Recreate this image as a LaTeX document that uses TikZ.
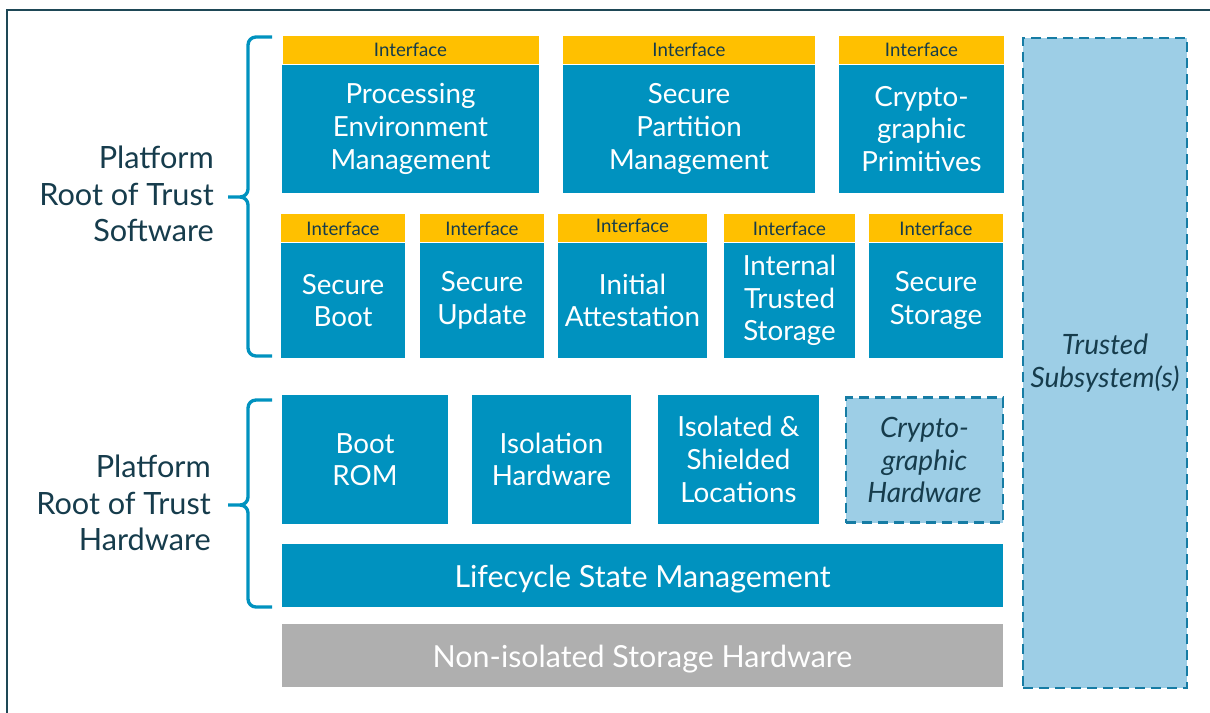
\documentclass[tikz,border=0pt]{standalone}
\usepackage{fontspec}
\setmainfont{Lato}
\usetikzlibrary{positioning}
\definecolor{rotblue}{RGB}{0,146,191}
\definecolor{ifyellow}{RGB}{255,192,0}
\definecolor{optblue}{RGB}{157,206,230}
\definecolor{optedge}{RGB}{22,124,164}
\definecolor{nisgray}{RGB}{175,175,175}
\definecolor{rottext}{RGB}{22,60,76}
\definecolor{framecol}{RGB}{30,72,86}
\newlength{\px}
\setlength{\px}{0.75pt}
\tikzset{
    block/.style={
        rectangle, fill=rotblue, text=white, inner sep=0pt,
        align=center, font=\fontsize{20.8}{24.5}\selectfont
    },
    iface/.style={
        rectangle, fill=ifyellow, text=rottext, inner sep=0pt,
        minimum height=28*\px, font=\fontsize{14}{16}\selectfont
    },
    optional/.style={
        rectangle, fill=optblue, draw=optedge, line width=2pt,
        dash pattern=on 7.5pt off 4.5pt, text=rottext, inner sep=0pt,
        align=center, font=\fontsize{21}{24.5}\selectfont\itshape
    },
    bar/.style={
        rectangle, inner sep=0pt, text=white,
        minimum width=721*\px, minimum height=63*\px,
        text height=20pt, text depth=2pt,
        font=\fontsize{22.8}{26}\selectfont
    },
    layerlabel/.style={
        align=right, text=rottext, inner sep=0pt,
        font=\fontsize{23}{27.5}\selectfont
    },
    brace/.style={draw=rotblue, line width=2.5pt},
    frameline/.style={draw=framecol, line width=1.6pt}
}

\begin{document}
\begin{tikzpicture}[x=0.75pt, y=-0.75pt]

\useasboundingbox (0,0) rectangle (1210,713);
\draw[frameline] (7,10) rectangle (1240,740);

% Trusted subsystem column
\node[optional, minimum width=164*\px, minimum height=650*\px] (tsub) at (1105,363) {Trusted\\Subsystem(s)};

% Platform RoT software, upper row
\node[block, minimum width=257*\px, minimum height=128*\px] (pem) at (410.5,129) {Processing\\Environment\\Management};
\node[block, minimum width=252*\px, minimum height=128*\px] (spm) at (689,129) {Secure\\Partition\\Management};
\node[block, minimum width=165*\px, minimum height=128*\px] (cgp) at (921.5,129) {Crypto-\\graphic\\Primitives};

\node[iface, minimum width=256*\px, above=0pt of pem] (pemif) {\raisebox{1.5pt}{Interface}};
\node[iface, minimum width=252*\px, above=0pt of spm] (spmif) {\raisebox{1.5pt}{Interface}};
\node[iface, minimum width=165*\px, above=0pt of cgp] (cgpif) {\raisebox{1.5pt}{Interface}};

% Platform RoT software, lower row
\node[block, minimum width=124*\px, minimum height=115*\px] (sboot) at (343,300.5) {Secure\\Boot};
\node[block, minimum width=124*\px, minimum height=115*\px] (supd) at (482,300.5) {Secure\\Update};
\node[block, minimum width=149*\px, minimum height=115*\px] (iatt) at (632.5,300.5) {Initial\\Attestation};
\node[block, minimum width=131*\px, minimum height=115*\px] (its) at (789.5,300.5) {Internal\\Trusted\\Storage};
\node[block, minimum width=134*\px, minimum height=115*\px] (sstor) at (936,300.5) {Secure\\Storage};

\node[iface, minimum width=124*\px, above=0pt of sboot] (sbootif) {Interface};
\node[iface, minimum width=124*\px, above=0pt of supd] (supdif) {Interface};
\node[iface, minimum width=149*\px, above=0pt of iatt] (iattif) {\raisebox{3.5pt}{Interface}};
\node[iface, minimum width=131*\px, above=0pt of its] (itsif) {Interface};
\node[iface, minimum width=134*\px, above=0pt of sstor] (sstorif) {Interface};

% Platform RoT hardware
\node[block, minimum width=166*\px, minimum height=129*\px] (brom) at (365,459.5) {Boot\\ROM};
\node[block, minimum width=159*\px, minimum height=129*\px] (isohw) at (551.5,459.5) {Isolation\\Hardware};
\node[block, minimum width=161*\px, minimum height=129*\px] (isoloc) at (738.5,459.5) {Isolated \&\\Shielded\\Locations};
\node[optional, minimum width=157*\px, minimum height=125*\px] (cghw) at (924.5,460) {Crypto-\\graphic\\Hardware};

\node[bar, fill=rotblue] (lcsm) at (642.5,575.5) {Lifecycle State Management};
\node[bar, fill=nisgray] (nish) at (642.5,655.5) {Non-isolated Storage Hardware};

% layer labels and braces
\node[layerlabel, anchor=east] (swlabel) at (214,194) {Platform\\Root of Trust\\Software};
\node[layerlabel, anchor=east] (hwlabel) at (211,503) {Platform\\Root of Trust\\Hardware};

\draw[brace] (272,37) -- (256,37) to[out=180,in=90] (248,45) -- (248,189) to[out=-90,in=0] (240,197) -- (228,197);
\draw[brace] (272,356) -- (256,356) to[out=180,in=-90] (248,348) -- (248,205) to[out=90,in=0] (240,197);
\draw[brace] (272,400) -- (256,400) to[out=180,in=90] (248,408) -- (248,497) to[out=-90,in=0] (240,505) -- (228,505);
\draw[brace] (272,607) -- (256,607) to[out=180,in=-90] (248,599) -- (248,513) to[out=90,in=0] (240,505);

\end{tikzpicture}
\end{document}
